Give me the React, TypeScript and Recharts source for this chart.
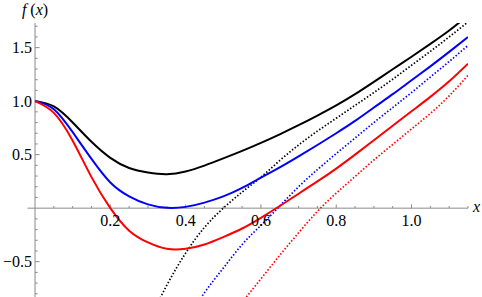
import { LineChart, Line, XAxis, YAxis, ReferenceLine } from 'recharts';

// sample positions along x
const xs = [
  0, 0.05, 0.1, 0.15, 0.2, 0.25, 0.3, 0.35, 0.4, 0.45, 0.5, 0.55,
  0.6, 0.65, 0.7, 0.75, 0.8, 0.85, 0.9, 0.95, 1.0, 1.05, 1.1, 1.15,
];

// solid curves
const blackSolid = [
  1.0, 0.95, 0.8, 0.62, 0.47, 0.375, 0.333, 0.318, 0.343, 0.398, 0.465, 0.535,
  0.61, 0.69, 0.775, 0.865, 0.96, 1.065, 1.18, 1.298, 1.415, 1.535, 1.66, 1.8,
];
const blueSolid = [
  1.0, 0.925, 0.71, 0.46, 0.24, 0.11, 0.035, 0.003, 0.012, 0.052, 0.11, 0.19,
  0.285, 0.38, 0.483, 0.59, 0.7, 0.815, 0.94, 1.065, 1.195, 1.325, 1.46, 1.6,
];
const redSolid = [
  1.0, 0.89, 0.63, 0.29, 0.0, -0.21, -0.32, -0.38, -0.38, -0.34, -0.27, -0.19,
  -0.09, 0.02, 0.135, 0.25, 0.37, 0.5, 0.635, 0.77, 0.905, 1.04, 1.185, 1.35,
];

// dotted asymptotes (null where the curve is off the bottom of the plot)
const blackDotted = [
  null, null, null, null, null, null, -1.07, -0.72, -0.42, -0.18, 0.0, 0.15,
  0.29, 0.445, 0.59, 0.72, 0.84, 0.96, 1.08, 1.205, 1.335, 1.465, 1.6, 1.74,
];
const blueDotted = [
  null, null, null, null, null, null, null, null, -1.06, -0.79, -0.56, -0.34,
  -0.16, 0.02, 0.2, 0.36, 0.51, 0.655, 0.8, 0.94, 1.08, 1.225, 1.37, 1.52,
];
const redDotted = [
  null, null, null, null, null, null, null, null, null, null, null, -0.88,
  -0.66, -0.44, -0.23, -0.03, 0.14, 0.295, 0.45, 0.595, 0.74, 0.885, 1.05, 1.24,
];

// axis ticks
const xMajorTicks = [0.2, 0.4, 0.6, 0.8, 1.0];
const xTickLabels = ['0.2', '0.4', '0.6', '0.8', '1.0'];
const xMinorTicks = [
  0.05, 0.1, 0.15, 0.25, 0.3, 0.35, 0.45, 0.5, 0.55, 0.65, 0.7, 0.75,
  0.85, 0.9, 0.95, 1.05, 1.1, 1.15,
];
const yMajorTicks = [-0.5, 0.5, 1.0, 1.5];
const yTickLabels = ['\u22120.5', '0.5', '1.0', '1.5'];
const yMinorTicks = [
  -0.8, -0.7, -0.6, -0.4, -0.3, -0.2, -0.1, 0.1, 0.2, 0.3, 0.4, 0.6, 0.7,
  0.8, 0.9, 1.1, 1.2, 1.3, 1.4, 1.6, 1.7,
];

const rows = xs.map((x, i) => ({
  x,
  blackSolid: blackSolid[i],
  blueSolid: blueSolid[i],
  redSolid: redSolid[i],
  blackDotted: blackDotted[i],
  blueDotted: blueDotted[i],
  redDotted: redDotted[i],
}));

const axisColor = '#8a8a8a';
const serif = "'Liberation Serif', 'Times New Roman', serif";
const textStyle = { fontFamily: serif, fontSize: 16 };
const dots = '1.5 1.9';

function FxLabel(props: any) {
  const vb = props.viewBox || {};
  return (
    <text x={vb.x + (vb.width || 0) / 2} y={vb.y - 8} textAnchor="middle" fontFamily={serif} fontSize={16} fill="#000">
      <tspan fontStyle="italic">f</tspan> (<tspan fontStyle="italic">x</tspan>)
    </text>
  );
}

function XLabel(props: any) {
  const vb = props.viewBox || {};
  return (
    <text x={vb.x + (vb.width || 0) + 5} y={vb.y + 4} fontFamily={serif} fontSize={16} fontStyle="italic" fill="#000">
      x
    </text>
  );
}

export default function App() {
  return (
    <div style={{ position: 'absolute', left: 0, top: 0, background: '#fff', fontFamily: serif }}>
      <LineChart
        width={482}
        height={297}
        data={rows}
        margin={{ top: 23, right: 14, bottom: 0, left: 27.5 }}
        style={{ fontFamily: serif }}
      >
        <XAxis dataKey="x" type="number" domain={[-0.02, 1.15]} allowDataOverflow hide />
        <YAxis type="number" domain={[-0.83, 1.73]} allowDataOverflow hide />

        <ReferenceLine y={0} stroke={axisColor} strokeWidth={1} label={XLabel} />
        <ReferenceLine x={0} stroke={axisColor} strokeWidth={1} label={FxLabel} />

        {xMinorTicks.map((t) => (
          <ReferenceLine key={'xm' + t} segment={[{ x: t, y: 0 }, { x: t, y: 0.02 }]} stroke={axisColor} />
        ))}
        {xMajorTicks.map((t, i) => (
          <ReferenceLine
            key={'xM' + t}
            segment={[{ x: t, y: 0 }, { x: t, y: 0.035 }]}
            stroke={axisColor}
            label={{ value: xTickLabels[i], position: 'bottom', offset: 6, fontFamily: serif, fontSize: 16, style: textStyle, fill: '#000' }}
          />
        ))}
        {yMinorTicks.map((t) => (
          <ReferenceLine key={'ym' + t} segment={[{ x: 0, y: t }, { x: 0.007, y: t }]} stroke={axisColor} />
        ))}
        {yMajorTicks.map((t, i) => (
          <ReferenceLine
            key={'yM' + t}
            segment={[{ x: 0, y: t }, { x: 0.012, y: t }]}
            stroke={axisColor}
            label={{ value: yTickLabels[i], position: 'left', offset: 3, fontFamily: serif, fontSize: 16, style: textStyle, fill: '#000' }}
          />
        ))}

        <Line dataKey="blackDotted" type="natural" stroke="#000" strokeWidth={1.7} strokeDasharray={dots} dot={false} isAnimationActive={false} />
        <Line dataKey="blueDotted" type="natural" stroke="#0000ff" strokeWidth={1.7} strokeDasharray={dots} dot={false} isAnimationActive={false} />
        <Line dataKey="redDotted" type="natural" stroke="#ff0000" strokeWidth={1.7} strokeDasharray={dots} dot={false} isAnimationActive={false} />
        <Line dataKey="blackSolid" type="natural" stroke="#000" strokeWidth={2} dot={false} isAnimationActive={false} />
        <Line dataKey="blueSolid" type="natural" stroke="#0000ff" strokeWidth={2} dot={false} isAnimationActive={false} />
        <Line dataKey="redSolid" type="natural" stroke="#ff0000" strokeWidth={2} dot={false} isAnimationActive={false} />
      </LineChart>
    </div>
  );
}
